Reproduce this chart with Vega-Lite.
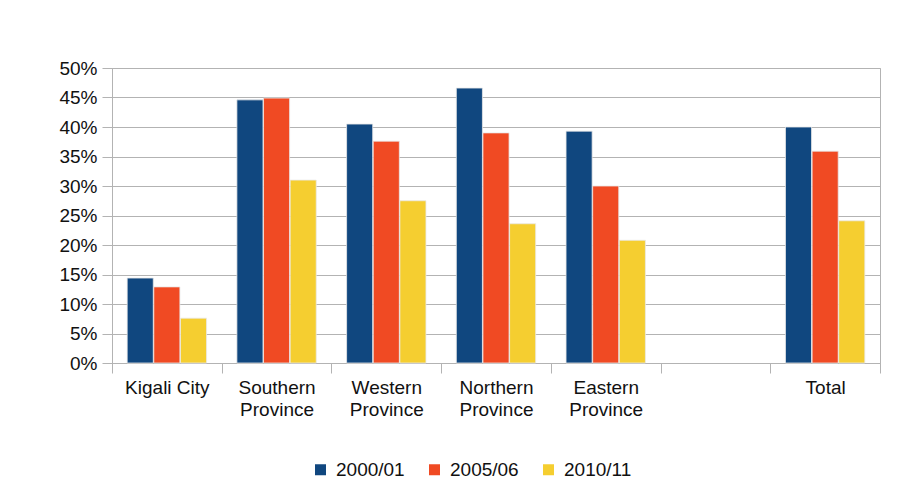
{
  "$schema": "https://vega.github.io/schema/vega-lite/v6.json",
  "autosize": "none",
  "width": 768,
  "height": 295,
  "padding": {"left": 112, "top": 68, "right": 34, "bottom": 139},
  "background": "white",
  "config": {
    "font": "Liberation Sans",
    "view": {"stroke": "#b3b3b3", "strokeWidth": 1},
    "axis": {"labelFont": "Liberation Sans", "labelFontSize": 19, "labelColor": "#111111", "domainColor": "#b3b3b3", "tickColor": "#b3b3b3", "gridColor": "#b3b3b3", "title": null}
  },
  "data": {
    "values": [
      {"region": "Kigali City", "year": "2000/01", "rate": 0.144},
      {"region": "Kigali City", "year": "2005/06", "rate": 0.129},
      {"region": "Kigali City", "year": "2010/11", "rate": 0.076},
      {"region": "Southern Province", "year": "2000/01", "rate": 0.446},
      {"region": "Southern Province", "year": "2005/06", "rate": 0.449},
      {"region": "Southern Province", "year": "2010/11", "rate": 0.310},
      {"region": "Western Province", "year": "2000/01", "rate": 0.405},
      {"region": "Western Province", "year": "2005/06", "rate": 0.376},
      {"region": "Western Province", "year": "2010/11", "rate": 0.275},
      {"region": "Northern Province", "year": "2000/01", "rate": 0.466},
      {"region": "Northern Province", "year": "2005/06", "rate": 0.390},
      {"region": "Northern Province", "year": "2010/11", "rate": 0.236},
      {"region": "Eastern Province", "year": "2000/01", "rate": 0.393},
      {"region": "Eastern Province", "year": "2005/06", "rate": 0.300},
      {"region": "Eastern Province", "year": "2010/11", "rate": 0.208},
      {"region": "Total", "year": "2000/01", "rate": 0.400},
      {"region": "Total", "year": "2005/06", "rate": 0.359},
      {"region": "Total", "year": "2010/11", "rate": 0.241}
    ]
  },
  "mark": {"type": "bar", "stroke": "#e8e8e8", "strokeWidth": 0.8},
  "encoding": {
    "x": {
      "field": "region",
      "type": "nominal",
      "sort": null,
      "scale": {
        "domain": ["Kigali City", "Southern Province", "Western Province", "Northern Province", "Eastern Province", "blank", "Total"],
        "paddingInner": 0,
        "paddingOuter": 0
      },
      "axis": {
        "labelAngle": 0,
        "tickBand": "extent",
        "tickSize": 10,
        "labelPadding": 5,
        "grid": false,
        "labelBaseline": "top",
        "labelLineHeight": 22,
        "labelExpr": "(!datum.value || datum.value == 'blank') ? '' : (datum.value == 'Kigali City' || datum.value == 'Total' ? datum.value : split(datum.value, ' '))"
      }
    },
    "xOffset": {"field": "year", "type": "nominal", "scale": {"paddingInner": 0.02, "paddingOuter": 0.57}},
    "y": {
      "field": "rate",
      "type": "quantitative",
      "scale": {"domain": [0, 0.5], "nice": false},
      "axis": {"format": ".0%", "values": [0, 0.05, 0.1, 0.15, 0.2, 0.25, 0.3, 0.35, 0.4, 0.45, 0.5], "tickSize": 10, "labelPadding": 5, "grid": true}
    },
    "color": {
      "field": "year",
      "type": "nominal",
      "scale": {"domain": ["2000/01", "2005/06", "2010/11"], "range": ["#10477f", "#f04a23", "#f5ce30"]},
      "legend": {
        "title": null,
        "orient": "none",
        "direction": "horizontal",
        "legendX": 199,
        "legendY": 392,
        "symbolType": "square",
        "symbolSize": 121,
        "symbolStrokeWidth": 0,
        "labelFontSize": 19,
        "labelFont": "Liberation Sans",
        "labelColor": "#111111",
        "labelOffset": 6,
        "columnPadding": 20
      }
    }
  }
}
